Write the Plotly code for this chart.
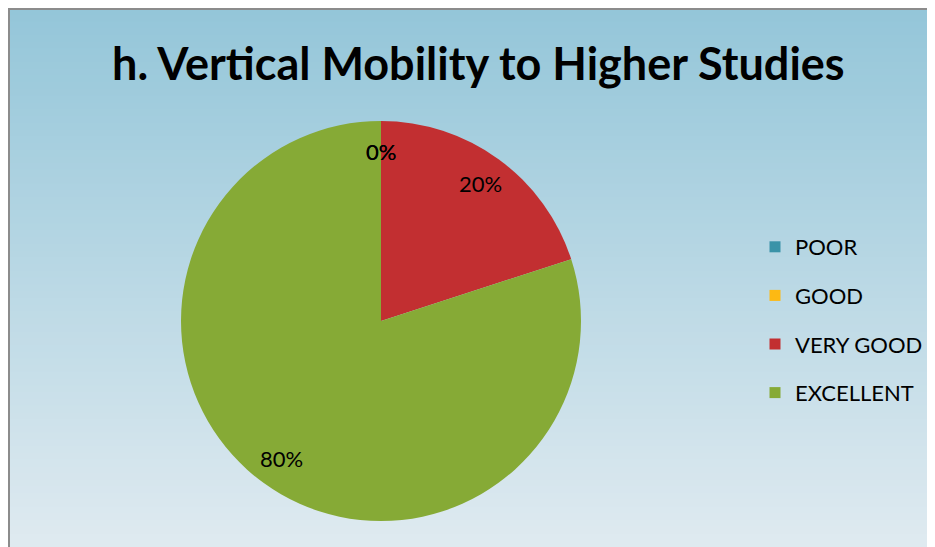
import math
import plotly.graph_objects as go

# ---- data ----
categories = ["POOR", "GOOD", "VERY GOOD", "EXCELLENT"]
values = [0, 0, 20, 80]
label_texts = ["0%", "0%", "20%", "80%"]
colors = ["#3a93a8", "#fdb913", "#c22f31", "#86aa36"]
title_text = "h. Vertical Mobility to Higher Studies"

# page body has an 8px margin; figure is drawn from (8, 8) and overflows the window
W, H = 935, 547
FONT = "Lato"

fig = go.Figure()

# pie geometry (figure pixels)
cx, cy, R = 373, 313, 200
dom_x = [(cx - R) / W, (cx + R) / W]
dom_y = [1 - (cy + R) / H, 1 - (cy - R) / H]

fig.add_trace(go.Pie(
    labels=categories, values=values, sort=False, direction="clockwise",
    rotation=0, marker=dict(colors=colors, line=dict(width=0)),
    textinfo="none", hoverinfo="label+percent", showlegend=False,
    domain=dict(x=dom_x, y=dom_y),
))

# legend entries as marker-only traces
for c, col in zip(categories, colors):
    fig.add_trace(go.Scatter(
        x=[None], y=[None], mode="markers", name=c,
        marker=dict(symbol="square", size=11, color=col),
        legendgroup=c, showlegend=True,
    ))

# data labels placed along slice mid-angles (computed from values)
total = sum(values)
cum = 0
annotations = []
for v, t in zip(values, label_texts):
    mid = (cum + v / 2) / total * 2 * math.pi
    cum += v
    r = 0.85 * R
    px = cx + r * math.sin(mid)
    py = cy - r * math.cos(mid)
    annotations.append(dict(
        x=px / W, y=1 - py / H, xref="paper", yref="paper", text=t,
        showarrow=False, font=dict(family=FONT, size=22, color="#000000"),
        xanchor="center", yanchor="middle",
    ))

annotations.append(dict(
    x=470 / W, y=1 - 55 / H, xref="paper", yref="paper", text="<b>" + title_text + "</b>",
    showarrow=False, font=dict(family=FONT, size=45, color="#000000"),
    xanchor="center", yanchor="middle",
))

# gradient background via stripes (visible area is 927 x 539)
shapes = []
top = (148, 198, 217)
bot = (223, 234, 240)
VH = 539
N = 80
for k in range(N):
    f = k / (N - 1)
    col = tuple(round(top[j] + (bot[j] - top[j]) * f) for j in range(3))
    y1p = VH * k / N
    y0p = VH * (k + 1) / N + 1
    shapes.append(dict(type="rect", xref="paper", yref="paper", x0=0, x1=1,
                       y0=max(0, 1 - y0p / H), y1=1 - y1p / H, fillcolor="rgb(%d,%d,%d)" % col,
                       line=dict(width=0), layer="below"))
shapes.append(dict(type="rect", xref="paper", yref="paper", x0=0, x1=1,
                   y0=0, y1=1 - VH / H, fillcolor="rgb(%d,%d,%d)" % bot,
                   line=dict(width=0), layer="below"))
# frame lines (top and left)
shapes.append(dict(type="line", xref="paper", yref="paper", x0=0, x1=1,
                   y0=1 - 1 / H, y1=1 - 1 / H, line=dict(color="#8c8c8c", width=2), layer="below"))
shapes.append(dict(type="line", xref="paper", yref="paper", x0=1 / W, x1=1 / W,
                   y0=0, y1=1, line=dict(color="#8c8c8c", width=2), layer="below"))

fig.update_layout(
    width=W, height=H, margin=dict(l=0, r=0, t=0, b=0),
    paper_bgcolor="#ffffff", plot_bgcolor="rgba(0,0,0,0)",
    xaxis=dict(visible=False), yaxis=dict(visible=False),
    shapes=shapes, annotations=annotations,
    legend=dict(x=747 / W, y=1 - 218 / H, xanchor="left", yanchor="top",
                font=dict(family=FONT, size=22, color="#000000"),
                bgcolor="rgba(0,0,0,0)", tracegroupgap=17,
                itemwidth=30),
    showlegend=True,
)

fig.write_html("out.html")
